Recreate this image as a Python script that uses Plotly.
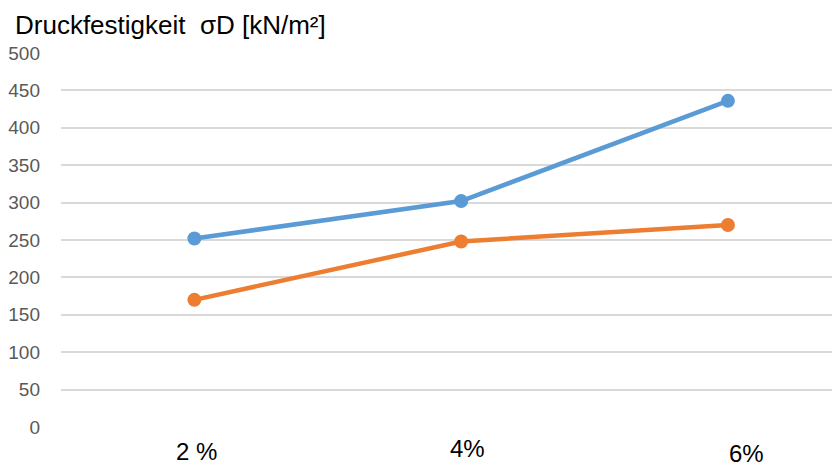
import plotly.graph_objects as go

categories = ["2 %", "4%", "6%"]
series_blue = [252, 302, 436]
series_orange = [170, 248, 270]
y_ticks = [0, 50, 100, 150, 200, 250, 300, 350, 400, 450, 500]
title_text = "Druckfestigkeit  σD [kN/m²]"

fig = go.Figure()
fig.add_trace(go.Scatter(
    x=categories, y=series_blue, mode="lines+markers",
    line=dict(color="#5B9BD5", width=4.5),
    marker=dict(color="#5B9BD5", size=14),
    showlegend=False, hoverinfo="skip"))
fig.add_trace(go.Scatter(
    x=categories, y=series_orange, mode="lines+markers",
    line=dict(color="#ED7D31", width=4.5),
    marker=dict(color="#ED7D31", size=14),
    showlegend=False, hoverinfo="skip"))

# category labels drawn as text boxes (placed slightly differently in the original)
label_shifts = [(2, -24), (6, -21), (19, -26)]
for cat, (dx, dy) in zip(categories, label_shifts):
    fig.add_annotation(x=cat, xref="x", y=0, yref="paper", text=cat,
                       showarrow=False, xanchor="center", yanchor="middle",
                       xshift=dx, yshift=dy,
                       font=dict(family="Liberation Sans, Arial", size=24, color="#000000"))

fig.add_annotation(x=0, xref="paper", y=1, yref="paper", text=title_text,
                   showarrow=False, xanchor="left", yanchor="middle",
                   xshift=-48, yshift=28,
                   font=dict(family="Liberation Sans, Arial", size=26, color="#000000"))

fig.update_layout(
    width=832, height=464,
    margin=dict(l=50, r=0, t=44.5, b=44.5),
    paper_bgcolor="white", plot_bgcolor="white",
    xaxis=dict(type="category", range=[-0.5, 2.42], showticklabels=False,
               showgrid=False, zeroline=False, showline=False, ticks=""),
    yaxis=dict(range=[0, 500], tickvals=y_ticks, showgrid=True,
               gridcolor="#D9D9D9", gridwidth=1.5, zeroline=False, showline=False,
               ticks="", ticklabelstandoff=20,
               tickfont=dict(family="Liberation Sans, Arial", size=19, color="#595959")),
)

fig.write_html("out.html")
